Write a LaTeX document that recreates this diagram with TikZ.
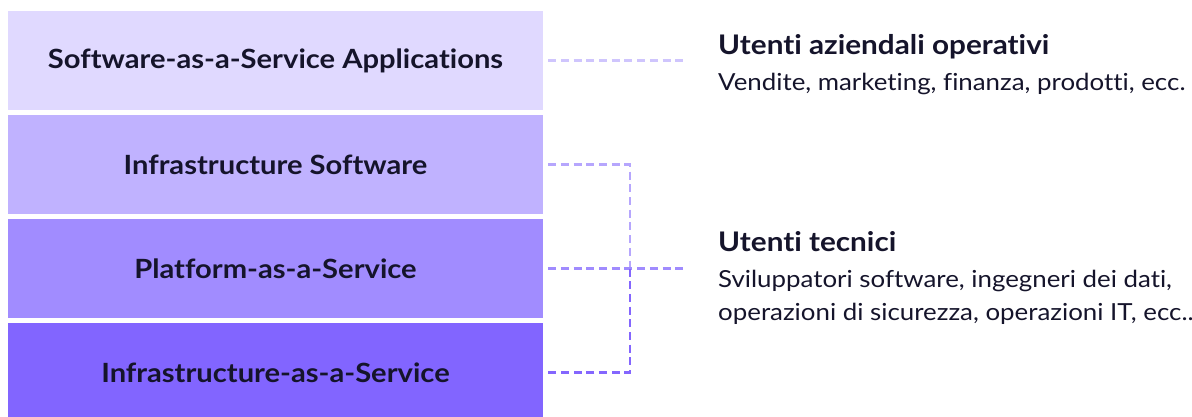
\documentclass[tikz,border=0pt]{standalone}
\usepackage{fontspec}
\setmainfont{Lato}[FakeStretch=1.1, Ligatures=NoCommon]
\definecolor{layerA}{HTML}{E0D9FF}
\definecolor{layerB}{HTML}{C0B2FF}
\definecolor{layerC}{HTML}{A18CFF}
\definecolor{layerD}{HTML}{8265FF}
\definecolor{linkA}{HTML}{CFC5FD}
\definecolor{linkB}{HTML}{B6A6FD}
\definecolor{linkC}{HTML}{A08BFE}
\definecolor{linkD}{HTML}{8466FE}
\definecolor{inkdark}{HTML}{15142B}
\begin{document}
\begin{tikzpicture}[x=1pt,y=-1pt,
  layer/.style={draw=none, minimum width=535pt, minimum height=99pt, inner sep=0pt,
    font=\fontsize{26.5}{30}\selectfont\bfseries, text=inkdark},
  linkline/.style={dash pattern=on 8pt off 4.7pt, line width=2.2pt},
  heading/.style={anchor=base west, inner sep=0pt, text=inkdark,
    font=\fontsize{27}{30}\selectfont\bfseries},
  detail/.style={anchor=base west, inner sep=0pt, text=inkdark,
    font=\fontsize{23.5}{28}\selectfont}]
  \useasboundingbox (0,0) rectangle (1192,416);

  % stacked layers
  \node[layer, fill=layerA] (saas) at (275.5,60.5) {Software-as-a-Service Applications};
  \node[layer, fill=layerB] (infsw) at (275.5,164.5) {Infrastructure Software};
  \node[layer, fill=layerC] (paas) at (275.5,268.5) {Platform-as-a-Service};
  \node[layer, fill=layerD] (iaas) at (275.5,372.5) {Infrastructure-as-a-Service};

  % audience texts
  \node[heading] (bizhead) at (718,54) {Utenti aziendali operativi};
  \node[detail] (bizdet) at (718,90) {Vendite, marketing, finanza, prodotti, ecc.};
  \node[heading] (techhead) at (718,251) {Utenti tecnici};
  \node[detail] (techdetA) at (718,287) {Sviluppatori software, ingegneri dei dati,};
  \node[detail] (techdetB) at (718,320) {operazioni di sicurezza, operazioni IT, ecc..};

  % connector points
  \coordinate (bizend) at (683,60.5);
  \coordinate (techend) at (683,268.5);
  \coordinate (bracetop) at (630,164.5);
  \coordinate (bracemid) at (630,268.5);
  \coordinate (bracebot) at (630,372.5);

  % dashed connectors
  \draw[linkline, draw=linkA] ([xshift=5pt]saas.east) -- (bizend);
  \draw[linkline, draw=linkB] ([xshift=5pt]infsw.east) -- (bracetop) -- (bracemid);
  \draw[linkline, draw=linkC] ([xshift=5pt]paas.east) -- (techend);
  \draw[linkline, draw=linkD] (bracemid) -- (bracebot) -- ([xshift=5pt]iaas.east);
\end{tikzpicture}
\end{document}
